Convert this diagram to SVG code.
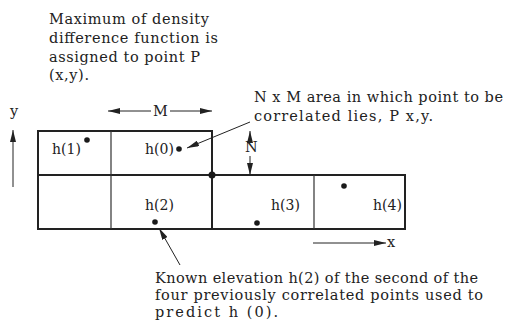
<svg xmlns="http://www.w3.org/2000/svg" width="506" height="321" viewBox="0 0 506 321">
<defs>
<style>
.t{font-family:"DejaVu Serif","Liberation Serif",serif;font-size:14.5px;fill:#222}
.l{font-family:"DejaVu Serif","Liberation Serif",serif;font-size:14px;fill:#222}
.g{stroke:#222;stroke-width:2;fill:none}
.gi{stroke:#333;stroke-width:1.2;fill:none}
.a{stroke:#222;stroke-width:1;fill:none}
.d{fill:#1a1a1a}
</style>
<marker id="ah" viewBox="0 0 12 6" refX="12" refY="3" markerWidth="12" markerHeight="6" markerUnits="userSpaceOnUse" orient="auto">
<path d="M0,0 L12,3 L0,6 Z" fill="#222"/>
</marker>
</defs>
<rect width="506" height="321" fill="#fff"/>
<g id="caption-top">
<text class="t" x="49" y="24" textLength="160" lengthAdjust="spacing">Maximum of density</text>
<text class="t" x="49" y="43" textLength="169" lengthAdjust="spacing">difference function is</text>
<text class="t" x="49" y="62" textLength="151" lengthAdjust="spacing">assigned to point P</text>
<text class="t" x="49" y="80" textLength="40" lengthAdjust="spacing">(x,y).</text>
</g>
<g id="caption-area">
<text class="t" x="254" y="102" textLength="249" lengthAdjust="spacing">N x M area in which point to be</text>
<text class="t" x="254" y="121" textLength="179" lengthAdjust="spacing">correlated lies, P x,y.</text>
</g>
<g id="caption-known">
<text class="t" x="155" y="283" textLength="323" lengthAdjust="spacing">Known elevation h(2) of the second of the</text>
<text class="t" x="155" y="300" textLength="328" lengthAdjust="spacing">four previously correlated points used to</text>
<text class="t" x="155" y="317" textLength="123" lengthAdjust="spacing">predict h (0).</text>
</g>
<g id="grid">
<path class="g" d="M38,175 V131 H212 V229 M38,175 V229 H405 V175 H38"/>
<path class="gi" d="M111,131 V229 M314,175 V229"/>
<circle class="d" cx="212" cy="175" r="3.5"/>
</g>
<g id="cell-h1"><text class="l" x="52" y="154">h(1)</text><circle class="d" cx="87" cy="140" r="2.8"/></g>
<g id="cell-h0"><text class="l" x="145" y="154">h(0)</text><circle class="d" cx="179" cy="149" r="2.8"/></g>
<g id="cell-h2"><text class="l" x="145" y="210">h(2)</text><circle class="d" cx="155" cy="222" r="2.8"/></g>
<g id="cell-h3"><text class="l" x="271" y="210">h(3)</text><circle class="d" cx="257" cy="223" r="2.8"/></g>
<g id="cell-h4"><text class="l" x="373" y="210">h(4)</text><circle class="d" cx="344" cy="186" r="2.8"/></g>
<g id="axes">
<text class="t" x="10" y="116">y</text>
<text class="t" x="387" y="247">x</text>
<text class="t" x="153" y="116">M</text>
<text class="t" x="245" y="152">N</text>
</g>
<g id="connectors">
<line class="a" x1="13" y1="187" x2="13" y2="130" marker-end="url(#ah)"/>
<line class="a" x1="313" y1="243" x2="386" y2="243" marker-end="url(#ah)"/>
<line class="a" x1="151" y1="111" x2="108" y2="111" marker-end="url(#ah)"/>
<line class="a" x1="170" y1="111" x2="212" y2="111" marker-end="url(#ah)"/>
<line class="a" x1="250" y1="139" x2="250" y2="131" marker-end="url(#ah)"/>
<line class="a" x1="250" y1="156" x2="250" y2="175" marker-end="url(#ah)"/>
<line class="a" x1="250" y1="122" x2="187" y2="148" marker-end="url(#ah)"/>
<line class="a" x1="180" y1="265" x2="159" y2="228" marker-end="url(#ah)"/>
</g>
</svg>
